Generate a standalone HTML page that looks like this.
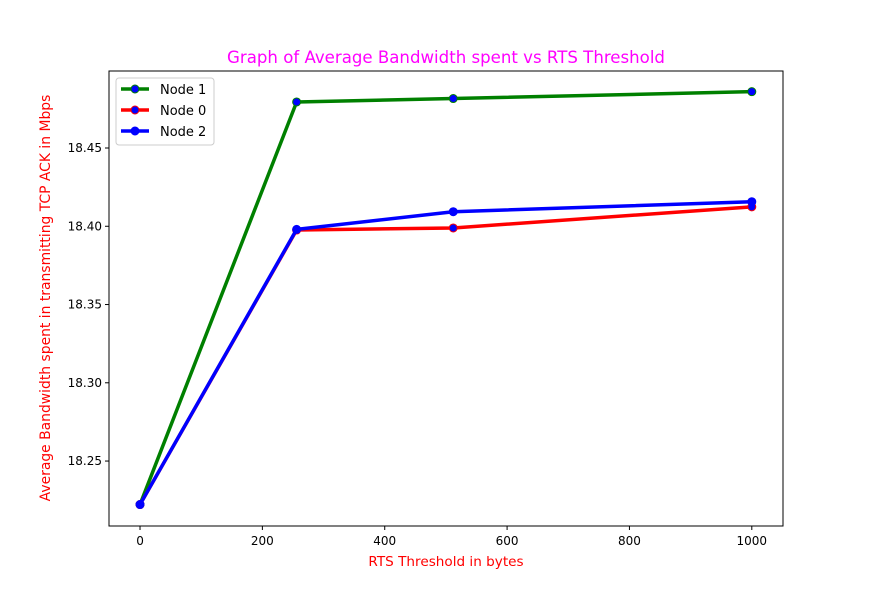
<!DOCTYPE html>
<html><head><meta charset="utf-8"><style>
body{margin:0;background:#fff}
svg text{font-family:"DejaVu Sans","Liberation Sans",sans-serif}
</style></head><body>
<svg id="chart" width="869" height="591" xmlns="http://www.w3.org/2000/svg">
<text x="446" y="63" text-anchor="middle" font-size="16.6" fill="#ff00ff">Graph of Average Bandwidth spent vs RTS Threshold</text>
<g id="grid"></g>
<rect x="109" y="71" width="674" height="455" fill="none" stroke="#000" stroke-width="1"/>
<g id="series"></g>
<text x="446" y="566" text-anchor="middle" font-size="13.6" fill="#ff0000">RTS Threshold in bytes</text>
<text transform="translate(50,298) rotate(-90)" text-anchor="middle" font-size="13.9" fill="#ff0000">Average Bandwidth spent in transmitting TCP ACK in Mbps</text>
<g>
<rect x="116" y="78" width="98" height="67" rx="3" fill="#fff" stroke="#ccc"/>
<g id="legend"></g>
</g>
</svg>
<script>
const xValues=[0,256,512,1000];
const node1=[18.2222,18.4794,18.4816,18.4860];
const node0=[18.2222,18.3976,18.3989,18.4124];
const node2=[18.2222,18.3980,18.4093,18.4157];
const xTicks=[0,200,400,600,800,1000];
const yTicks=[18.25,18.30,18.35,18.40,18.45];
const seriesNames=["Node 1","Node 0","Node 2"];
const seriesColors=["#008000","#ff0000","#0000ff"];
const NS="http://www.w3.org/2000/svg";
const L=109,R=783,T=71,B=526,xMin=-50.7,xMax=1051,yMin=18.2085,yMax=18.4992;
const xs=v=>L+(v-xMin)/(xMax-xMin)*(R-L);
const ys=v=>B-(v-yMin)/(yMax-yMin)*(B-T);
function mk(tag,attrs,parent){const e=document.createElementNS(NS,tag);for(const k in attrs)e.setAttribute(k,attrs[k]);parent.appendChild(e);return e;}
const g=document.getElementById('grid');
xTicks.forEach(t=>{const x=xs(t);
 const l=mk('line',{x1:x,x2:x,y1:B,y2:B+4,stroke:'#000'},g);
 
 
 const tx=mk('text',{x:x,y:B+19,'text-anchor':'middle','font-size':12},g);tx.textContent=t;
 
 });
yTicks.forEach(t=>{const y=ys(t);
 const l=mk('line',{x1:L-4,x2:L,y1:y,y2:y,stroke:'#000'},g);
 
 
 const tx=mk('text',{x:L-7,y:y+4,'text-anchor':'end','font-size':12},g);tx.textContent=t.toFixed(2);
 
 });
const s=document.getElementById('series');
[node1,node0,node2].forEach((d,i)=>{
 const pts=d.map((v,j)=>xs(xValues[j])+','+ys(v)).join(' ');
 const pl=mk('polyline',{points:pts,fill:'none',stroke:seriesColors[i],'stroke-width':3.5,'stroke-linejoin':'round'},s);
 
 
 d.forEach((v,j)=>{const c=mk('circle',{cx:xs(xValues[j]),cy:ys(v),r:4,fill:'#0000ff',stroke:seriesColors[i],'stroke-width':1},s);
  
  });
});
const lg=document.getElementById('legend');
seriesNames.forEach((n,i)=>{const y=89+i*21;
 const l=mk('line',{x1:121,x2:149,y1:y,y2:y,stroke:seriesColors[i],'stroke-width':3.5},lg);
 
 
 const c=mk('circle',{cx:135,cy:y,r:4,fill:'#0000ff',stroke:seriesColors[i]},lg);
 
 
 const t=mk('text',{x:160,y:y+5,'font-size':13},lg);t.textContent=n;
 
 });
</script>
</body></html>
